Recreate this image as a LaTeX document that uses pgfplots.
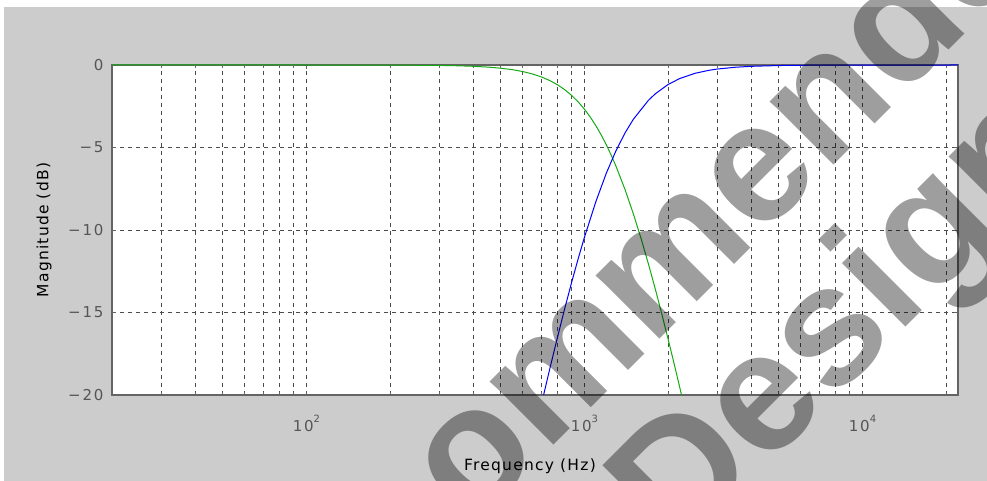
\documentclass[border=0pt]{standalone}
\usepackage{pgfplots}
\pgfplotsset{compat=1.18}
\usepackage{fontspec}
\setmainfont{DejaVu Sans}
\newfontfamily\labfont[LetterSpace=8]{DejaVu Sans}
\newfontfamily\tickfont[LetterSpace=12]{DejaVu Sans}
\newfontfamily\wmfont{Liberation Sans}
\definecolor{bggray}{RGB}{204,204,204}
\definecolor{framegray}{RGB}{100,100,100}
\definecolor{tickgray}{RGB}{85,85,85}
\definecolor{lpgreen}{RGB}{20,170,20}
\definecolor{hpblue}{RGB}{0,0,255}
\begin{document}
\begin{tikzpicture}
\useasboundingbox (0,0) rectangle (987bp,481bp);
\clip (0,0) rectangle (987bp,481bp);
\fill[white] (0,0) rectangle (987bp,481bp);
\fill[bggray] (4bp,0) rectangle (987bp,474bp);
\begin{axis}[
  scale only axis,
  width=846bp, height=330bp,
  at={(112bp,86bp)}, anchor=south west,
  xmode=log,
  xmin=20, xmax=22050,
  ymin=-20, ymax=0,
  axis background/.style={fill=white},
  axis line style={framegray, line width=1.1bp},
  xtick={100,1000,10000},
  xticklabels={10\raisebox{0.55em}{\fontsize{10bp}{12bp}\selectfont 2},
               10\raisebox{0.55em}{\fontsize{10bp}{12bp}\selectfont 3},
               10\raisebox{0.55em}{\fontsize{10bp}{12bp}\selectfont 4}},
  minor xtick={30,40,50,60,70,80,90,200,300,400,500,600,700,800,900,2000,3000,4000,5000,6000,7000,8000,9000,20000},
  ytick={-20,-15,-10,-5,0},
  yticklabels={−20,−15,−10,−5,0},
  tick align=inside,
  major tick length=4bp, minor tick length=3bp,
  tick style={framegray, line width=0.8bp},
  xmajorgrids, xminorgrids, ymajorgrids,
  major grid style={black!70, line width=0.8bp, dash pattern=on 4bp off 4bp},
  minor grid style={black!70, line width=0.8bp, dash pattern=on 4bp off 4bp},
  ticklabel style={font=\tickfont\fontsize{15bp}{18bp}\selectfont, text=tickgray},
  xticklabel style={yshift=-17bp},
  yticklabel style={xshift=-5bp},
  xlabel={Frequency (Hz)},
  ylabel={Magnitude (dB)},
  label style={font=\labfont\fontsize{15.5bp}{18bp}\selectfont, text=black},
  xlabel style={at={(axis description cs:0.494,-0.215)}, anchor=center},
  ylabel style={at={(axis description cs:-0.0804,0.5)}, anchor=center},
]
\addplot[lpgreen, line width=1bp] coordinates {
 (20,0) (50,0) (100,0) (200,-0.005) (300,-0.025) (350,-0.047) (400,-0.080)
 (450,-0.128) (500,-0.194) (550,-0.282) (600,-0.397) (650,-0.543) (700,-0.722)
 (750,-0.940) (800,-1.198) (850,-1.500) (900,-1.847) (950,-2.240) (1000,-2.678)
 (1050,-3.161) (1100,-3.686) (1150,-4.252) (1200,-4.855) (1250,-5.491)
 (1300,-6.156) (1400,-7.558) (1500,-9.030) (1600,-10.544) (1700,-12.076)
 (1800,-13.608) (1900,-15.127) (2000,-16.622) (2100,-18.087) (2200,-19.517)
 (2300,-20.911)
};
\addplot[hpblue, line width=1bp] coordinates {
 (650,-22.942) (700,-20.579) (750,-18.436) (800,-16.495) (850,-14.738)
 (900,-13.152) (950,-11.723) (1000,-10.439) (1100,-8.262) (1200,-6.534)
 (1300,-5.175) (1400,-4.112) (1500,-3.284) (1700,-2.134) (1800,-1.739)
 (2000,-1.179) (2200,-0.822) (2500,-0.502) (2800,-0.323) (3000,-0.246)
 (3500,-0.134) (4000,-0.079) (5000,-0.032) (7000,-0.008) (10000,-0.002)
 (22050,0)
};
\end{axis}
\node[rotate=45, text=black, text opacity=0.38, inner sep=0pt]
  at (639bp,207bp) {\wmfont\bfseries\fontsize{170bp}{170bp}\selectfont Recommended};
\node[rotate=45, text=black, text opacity=0.38, inner sep=0pt]
  at (847bp,156bp) {\wmfont\bfseries\fontsize{170bp}{170bp}\selectfont Design};
\end{tikzpicture}
\end{document}
